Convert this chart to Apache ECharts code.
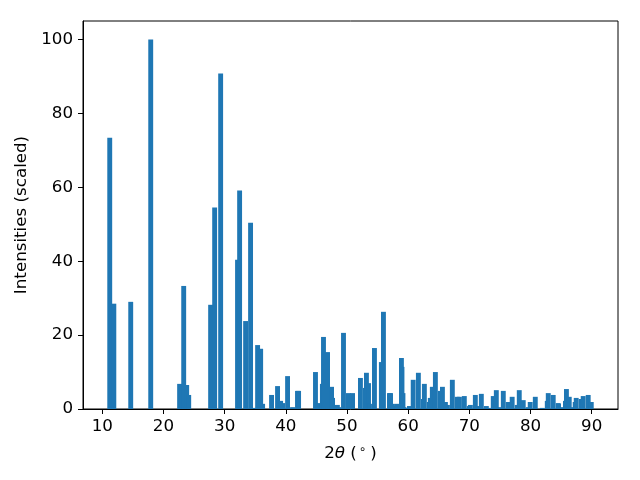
<!DOCTYPE html>
<html>
<head>
<meta charset="utf-8">
<script src="https://cdn.jsdelivr.net/npm/echarts@6/dist/echarts.min.js"></script>
<style>html,body{margin:0;padding:0;background:#fff}#c{width:640px;height:480px}</style>
</head>
<body>
<div id="c"></div>
<script>
const twoTheta = [11.22,11.89,14.65,17.92,22.64,23.31,23.80,24.13,27.71,28.37,29.35,32.11,32.45,33.43,34.24,34.97,35.39,35.89,36.21,37.67,38.65,39.15,39.48,40.29,41.10,41.91,42.09,
44.85,45.19,45.98,46.16,46.82,47.48,47.64,48.43,48.62,49.43,50.24,50.91,52.20,53.01,53.18,53.52,53.68,54.49,55.62,55.96,56.94,57.12,57.44,58.08,58.24,58.90,58.99,59.15,59.31,59.72,60.21,60.82,
61.67,62.48,62.65,63.46,63.62,63.95,64.45,65.26,65.60,66.09,66.42,67.22,68.03,68.38,69.18,69.99,70.17,70.98,71.52,71.96,72.78,73.11,73.91,74.41,74.85,75.55,76.36,76.69,77.00,77.83,78.16,78.81,
79.62,79.95,80.78,81.92,82.74,82.90,83.71,84.52,84.58,85.30,85.71,85.87,86.33,86.90,87.30,87.47,88.28,88.61,89.43,89.93];
const intensity = [73.4,28.5,29.0,100.0,6.8,33.3,6.5,3.8,28.2,54.5,90.8,40.4,59.1,23.8,50.4,0.3,17.3,16.3,1.4,3.8,6.2,2.2,1.6,8.9,0.5,4.9,4.9,
10.0,1.6,6.8,19.5,15.4,6.0,3.0,1.1,0.5,20.6,4.3,4.3,8.4,5.7,9.8,7.0,1.4,16.5,12.7,26.3,4.3,4.3,1.4,0.8,1.4,13.8,11.4,4.3,0.5,0.3,0.8,7.9,
9.8,2.7,6.8,1.9,3.0,6.0,10.0,4.9,6.0,1.9,1.1,7.9,3.3,3.3,3.5,0.8,1.1,3.8,0.8,4.1,0.8,0.3,3.5,5.1,0.5,4.9,1.9,1.4,3.3,1.1,5.1,2.4,
0.5,1.9,3.3,0.3,2.2,4.3,3.8,1.6,1.4,0.5,2.2,5.4,3.3,0.5,1.9,3.0,2.7,3.5,3.8,1.9];
const xTicks = [10,20,30,40,50,60,70,80,90];
const yTicks = [0,20,40,60,80,100];
const barWidth = 0.8;

const data = twoTheta.map((x,i)=>[x,intensity[i]]);
const chart = echarts.init(document.getElementById('c'));
const font = 'DejaVu Sans';
const fs = 16.7;
chart.setOption({
  animation:false,
  grid:{left:83,right:22,top:21,bottom:71,show:true,borderColor:'#000',borderWidth:1,backgroundColor:'transparent'},
  xAxis:{type:'value',min:6.85,max:94.3,interval:10,
    axisLine:{show:true,lineStyle:{color:'#000',width:1}},
    axisTick:{show:true,length:5,lineStyle:{color:'#000'},customValues:xTicks},
    axisLabel:{color:'#000',fontFamily:font,fontSize:fs,margin:9,customValues:xTicks},
    splitLine:{show:false},
    name:'{n|2}{i|θ}{n| (}{s|∘}{n|)}',nameLocation:'middle',nameGap:35,
    nameTextStyle:{rich:{n:{fontFamily:font,fontSize:fs,color:'#000'},i:{fontFamily:font,fontSize:fs,fontStyle:'italic',color:'#000'},s:{fontFamily:font,fontSize:12,color:'#000',verticalAlign:'top',padding:[0,4,8,2]}}}
  },
  yAxis:{type:'value',min:0,max:105,interval:20,
    axisLine:{show:true,lineStyle:{color:'#000',width:1}},
    axisTick:{show:true,length:5,lineStyle:{color:'#000'},customValues:yTicks},
    axisLabel:{color:'#000',fontFamily:font,fontSize:fs,margin:10,customValues:yTicks},
    splitLine:{show:false},
    name:'Intensities (scaled)',nameLocation:'middle',nameGap:45,
    nameTextStyle:{fontFamily:font,fontSize:fs,color:'#000'}
  },
  series:[{
    type:'custom',
    data:data,
    renderItem:function(params,api){
      const x=api.value(0), y=api.value(1);
      const p0=api.coord([x-barWidth/2,y]);
      const p1=api.coord([x+barWidth/2,0]);
      return {type:'rect',shape:{x:p0[0],y:p0[1],width:p1[0]-p0[0],height:p1[1]-p0[1]},style:{fill:'#1f77b4'}};
    }
  }]
});
</script>
</body>
</html>
